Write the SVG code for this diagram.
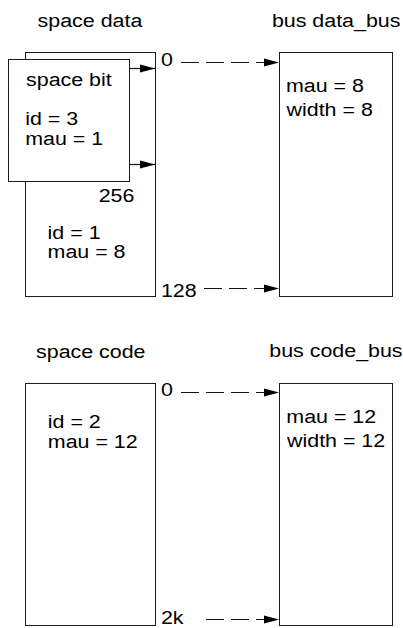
<svg xmlns="http://www.w3.org/2000/svg" width="403" height="628" viewBox="0 0 403 628">
<style>
  .box { fill: #fff; stroke: #1a1a1a; stroke-width: 1; }
  .t { font-family: "Liberation Sans", Arial, Helvetica, sans-serif; font-size: 18px; fill: #000; }
  .link { fill: none; stroke: #111; stroke-width: 1.2; }
  .dash { stroke-dasharray: 18 7; }
</style>
<defs>
  <marker id="ah" markerUnits="userSpaceOnUse" markerWidth="15" markerHeight="9" refX="15" refY="4.5" orient="auto">
    <path d="M0,0.5 L15,4.5 L0,8.5 z" fill="#000"/>
  </marker>
</defs>
<rect width="403" height="628" fill="#fff"/>

<g id="space-data">
  <rect class="box" x="25.5" y="52.5" width="130" height="244"/>
  <g transform="scale(1.19 1)">
    <text class="t" x="31.6" y="27.3">space data</text>
    <text class="t" x="82.9" y="201.7">256</text>
    <text class="t" x="40" y="239.2">id = 1</text>
    <text class="t" x="40" y="257.8">mau = 8</text>
  </g>
</g>

<g id="space-bit">
  <rect class="box" x="8.5" y="59.5" width="121" height="122"/>
  <g transform="scale(1.19 1)">
    <text class="t" x="21.9" y="86">space bit</text>
    <text class="t" x="21.2" y="125">id = 3</text>
    <text class="t" x="21.2" y="145">mau = 1</text>
  </g>
</g>

<g id="bus-data">
  <rect class="box" x="279.5" y="52.5" width="113" height="244"/>
  <g transform="scale(1.19 1)">
    <text class="t" x="228.5" y="26.7">bus data_bus</text>
    <text class="t" x="240.3" y="92.3">mau = 8</text>
    <text class="t" x="240.8" y="116">width = 8</text>
  </g>
</g>

<g id="space-code">
  <rect class="box" x="25.5" y="383.5" width="130" height="242"/>
  <g transform="scale(1.19 1)">
    <text class="t" x="30.3" y="358.3">space code</text>
    <text class="t" x="40.2" y="428.3">id = 2</text>
    <text class="t" x="40.2" y="447.7">mau = 12</text>
  </g>
</g>

<g id="bus-code">
  <rect class="box" x="279.5" y="383.5" width="113" height="242"/>
  <g transform="scale(1.19 1)">
    <text class="t" x="226.3" y="356.7">bus code_bus</text>
    <text class="t" x="240.6" y="422.7">mau = 12</text>
    <text class="t" x="241.2" y="447.3">width = 12</text>
  </g>
</g>

<g id="address-labels" transform="scale(1.19 1)">
  <text class="t" x="135.2" y="66">0</text>
  <text class="t" x="135.2" y="296.7">128</text>
  <text class="t" x="135.2" y="396">0</text>
  <text class="t" x="135.2" y="624">2k</text>
</g>

<g id="connectors">
  <line class="link" x1="130" y1="68.5" x2="155" y2="68.5" marker-end="url(#ah)"/>
  <line class="link" x1="130" y1="164.5" x2="155" y2="164.5" marker-end="url(#ah)"/>
  <line class="link dash" x1="181" y1="62.5" x2="279" y2="62.5" marker-end="url(#ah)"/>
  <line class="link dash" x1="204" y1="288.5" x2="279" y2="288.5" marker-end="url(#ah)"/>
  <line class="link dash" x1="181" y1="392.5" x2="279" y2="392.5" marker-end="url(#ah)"/>
  <line class="link dash" x1="206" y1="619.5" x2="279" y2="619.5" marker-end="url(#ah)"/>
</g>
</svg>
